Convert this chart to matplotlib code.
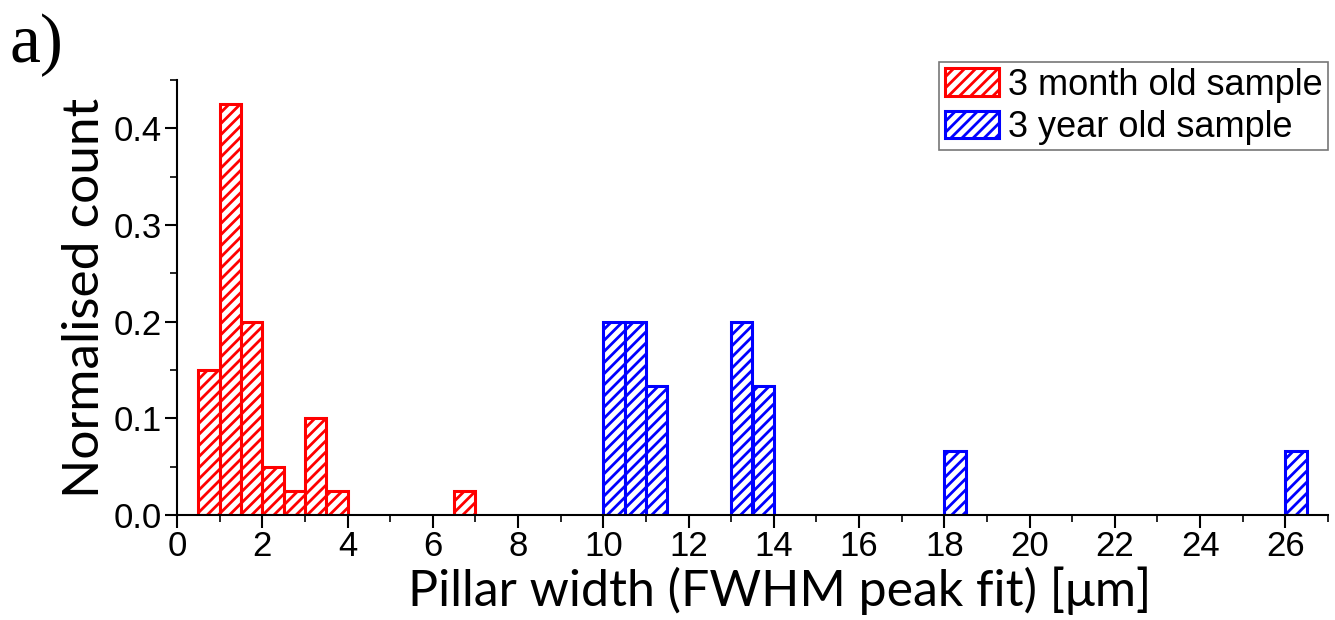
import matplotlib as mpl
import matplotlib.pyplot as plt
import numpy as np

# bin left edges (0.5 um bins) and normalised counts
month_edges = [0.5, 1.0, 1.5, 2.0, 2.5, 3.0, 3.5, 6.5]
month_counts = [0.15, 0.425, 0.2, 0.05, 0.025, 0.1, 0.025, 0.025]
year_edges = [10.0, 10.5, 11.0, 13.0, 13.5, 18.0, 26.0]
year_counts = [0.2, 0.2, 0.1333, 0.2, 0.1333, 0.0667, 0.0667]
bin_w = 0.5

mpl.rcParams['hatch.linewidth'] = 2.0
mpl.rcParams['font.family'] = 'Liberation Sans'

fig = plt.figure(figsize=(13.35, 6.2), dpi=100)
ax = fig.add_axes([177/1335, 1-515/620, (1328-177)/1335, (515-80)/620])

ax.bar(month_edges, month_counts, width=bin_w, align='edge', facecolor='white',
       edgecolor='#ff0000', hatch='///', linewidth=2.2, label='3 month old sample')
ax.bar(year_edges, year_counts, width=bin_w, align='edge', facecolor='white',
       edgecolor='#0000ff', hatch='///', linewidth=2.2, label='3 year old sample')

ax.set_xlim(0, 27)
ax.set_ylim(0, 0.45)
ax.set_xticks(np.arange(0, 27, 2))
ax.set_xticks(np.arange(0, 28, 1), minor=True)
ax.set_yticks([0.0, 0.1, 0.2, 0.3, 0.4])
ax.set_yticks(np.arange(0, 0.451, 0.05), minor=True)
ax.yaxis.set_major_formatter(mpl.ticker.FormatStrFormatter('%.1f'))
ax.tick_params(which='major', length=9, width=1.5, labelsize=25, pad=2)
ax.tick_params(which='minor', length=5, width=1.2)
for s in ['top', 'right']:
    ax.spines[s].set_visible(False)
for s in ['left', 'bottom']:
    ax.spines[s].set_linewidth(1.5)

ax.set_ylabel('Normalised count', fontsize=37, family='Lato', labelpad=4)
ax.set_xlabel('Pillar width (FWHM peak fit) [μm]', fontsize=36, family='Lato', labelpad=2)
ax.xaxis.label.set_x(0.524)

leg = ax.legend(loc='upper right', bbox_to_anchor=(1.0, 1.041), borderaxespad=0,
                fontsize=26, frameon=True, fancybox=False, edgecolor='#555555',
                handlelength=1.5, handleheight=0.78, handletextpad=0.25,
                borderpad=0.15, labelspacing=0.2)
leg.get_frame().set_linewidth(1.2)

fig.text(10/1335, 1-62/620, 'a)', fontsize=50, family='Liberation Serif', va='baseline')

fig.savefig('out.png', dpi=100)
